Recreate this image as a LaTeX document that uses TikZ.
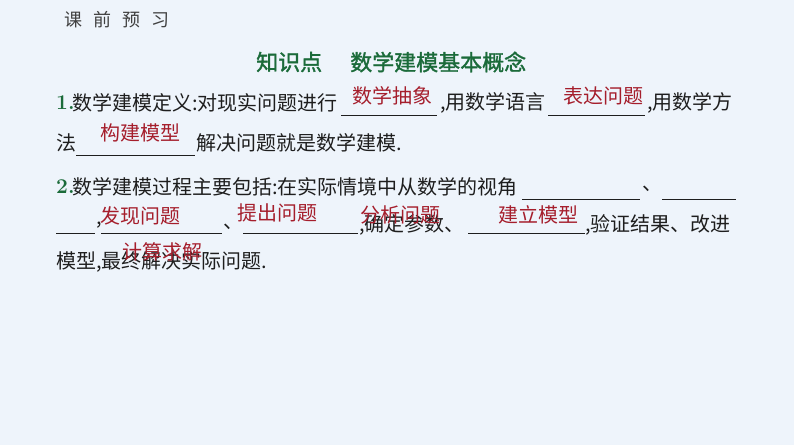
\documentclass[tikz,border=0pt]{standalone}
\usepackage{fontspec}
\newfontfamily\cjk{Noto Sans CJK SC}
\newfontfamily\cjkb[FakeBold=1.5]{Noto Sans CJK SC}
\definecolor{bg}{HTML}{EEF4FB}
\definecolor{tgreen}{HTML}{1B6B3A}
\definecolor{ans}{HTML}{A51E2C}
\definecolor{txt}{HTML}{1E1E1E}
\begin{document}
\begin{tikzpicture}[x=1pt,y=-1pt,
  t/.style={anchor=west,inner sep=0,text=txt,font=\cjk\fontsize{20}{20}\selectfont},
  a/.style={inner sep=0,text=ans,font=\cjk\fontsize{20}{20}\selectfont},
  u/.style={draw=txt,line width=0.8pt},
  num/.style={anchor=west,inner sep=0,text=tgreen,font=\bfseries\fontsize{21}{21}\selectfont}]
\fill[bg] (0,0) rectangle (794,445);
\node[anchor=west,inner sep=0,text=black!75,font=\cjk\fontsize{18}{18}\selectfont] (h) at (64,20) {课\hspace{11pt}前\hspace{11pt}预\hspace{11pt}习};
\node[anchor=west,inner sep=0,text=tgreen,font=\cjkb\fontsize{22}{22}\selectfont] (t1) at (256,62) {知识点};
\node[anchor=west,inner sep=0,text=tgreen,font=\cjkb\fontsize{22}{22}\selectfont] (t2) at (350,62) {数学建模基本概念};
% line 1
\node[num] (n1) at (56,103) {1.};
\node[t] (l1a) at (72,103) {数学建模定义:对现实问题进行};
\draw[u] (341,115) -- (437,115);
\node[t] (l1b) at (440,103) {,用数学语言};
\draw[u] (548,115) -- (645,115);
\node[t] (l1c) at (647,103) {,用数学方};
% line 2
\node[t] (l2a) at (56,143) {法};
\draw[u] (76,155) -- (195,155);
\node[t] (l2b) at (196,143) {解决问题就是数学建模.};
% line 3
\node[num] (n2) at (56,187) {2.};
\node[t] (l3a) at (72,187) {数学建模过程主要包括:在实际情境中从数学的视角};
\draw[u] (522,199) -- (640,199);
\node[t] (l3b) at (642,189) {、};
\draw[u] (662,199) -- (736,199);
% line 4
\draw[u] (56,233) -- (95,233);
\node[t] (l4a) at (96,225) {,};
\draw[u] (101,233) -- (222,233);
\node[t] (l4b) at (223,227) {、};
\draw[u] (243,233) -- (358,233);
\node[t] (l4c) at (359,225) {,确定参数、};
\draw[u] (468,233) -- (585,233);
\node[t] (l4d) at (585,225) {,验证结果、改进};
% line 5
\node[t] (l5) at (56,262) {模型,最终解决实际问题.};
% answers
\node[a] (a1) at (392,96) {数学抽象};
\node[a] (a2) at (603,96) {表达问题};
\node[a] (a3) at (140,133) {构建模型};
\node[a] (a4) at (140,216) {发现问题};
\node[a] (a5) at (277,213) {提出问题};
\node[a] (a6) at (400,215) {分析问题};
\node[a] (a7) at (538,215) {建立模型};
\node[a] (a8) at (162,252) {计算求解};
\end{tikzpicture}
\end{document}
